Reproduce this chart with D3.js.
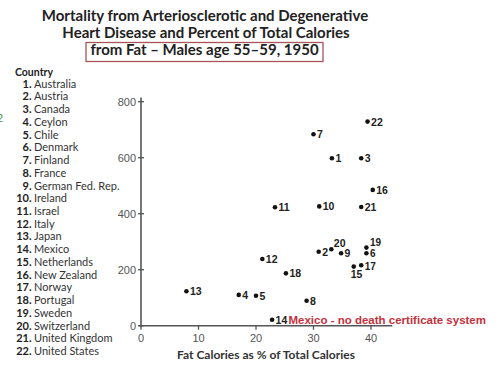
<!DOCTYPE html>
<html><head><meta charset="utf-8">
<script src="https://cdn.jsdelivr.net/npm/d3@7"></script>
<style>body{margin:0;background:#fff}svg{display:block}</style>
</head><body>
<svg id="c" width="500" height="366"></svg>
<script>
const ids = [1,2,3,4,5,6,7,8,9,10,11,12,13,14,15,16,17,18,19,20,21,22];
const countries = ["Australia","Austria","Canada","Ceylon","Chile","Denmark","Finland","France","German Fed. Rep.","Ireland","Israel","Italy","Japan","Mexico","Netherlands","New Zealand","Norway","Portugal","Sweden","Switzerland","United Kingdom","United States"];
const fatPct =    [33.2, 30.9, 38.3, 17.0, 20.0, 39.2, 30.0, 28.8, 34.8, 31.0, 23.3, 21.1, 7.9, 22.8, 37.0, 40.3, 38.3, 25.2, 39.2, 33.1, 38.3, 39.4];
const mortality = [598, 264, 598, 110, 107, 259, 684, 89, 259, 426, 423, 238, 123, 21, 211, 485, 216, 187, 279, 273, 424, 729];
const xTicks = [0,10,20,30,40];
const yTicks = [0,200,400,600,800];
const titleLines = ["Mortality from Arteriosclerotic and Degenerative","Heart Disease and Percent of Total Calories","from Fat – Males age 55–59, 1950"];
const xLabel = "Fat Calories as % of Total Calories";
const note = "Mexico - no death certificate system";

const svg = d3.select("#c");
const x = d3.scaleLinear().domain([0,40]).range([141,371]);
const y = d3.scaleLinear().domain([0,800]).range([325.7,101.7]);

// title
const tf = "Lato, 'Open Sans', sans-serif";
svg.append("text").attr("x",205).attr("y",21).attr("text-anchor","middle")
  .attr("font-family",tf).attr("font-weight","bold").attr("font-size",15).attr("fill","#222").text(titleLines[0]);
svg.append("text").attr("x",206).attr("y",37.5).attr("text-anchor","middle")
  .attr("font-family",tf).attr("font-weight","bold").attr("font-size",15).attr("fill","#222").text(titleLines[1]);
svg.append("rect").attr("x",86).attr("y",42.5).attr("width",237).attr("height",19)
  .attr("fill","none").attr("stroke","#a8555a").attr("stroke-width",1.3);
svg.append("text").attr("x",204.5).attr("y",54.5).attr("text-anchor","middle")
  .attr("font-family",tf).attr("font-weight","bold").attr("font-size",15).attr("fill","#222").text(titleLines[2]);

// legend
const lf = "Lato, 'Open Sans', sans-serif";
svg.append("text").attr("x",15).attr("y",76).attr("font-family",lf).attr("font-weight","bold")
  .attr("font-size",10.5).attr("fill","#222").text("Country");
const lg = svg.append("g");
ids.forEach((id,i)=>{
  const yy = 87.7 + i*12.73;
  lg.append("text").attr("x",31.5).attr("y",yy).attr("text-anchor","end").attr("font-family",lf)
    .attr("font-weight","bold").attr("font-size",11).attr("fill","#222").text(id+".");
  lg.append("text").attr("x",34).attr("y",yy).attr("font-family",lf)
    .attr("font-size",11).attr("fill","#333").text(countries[i]);
});
svg.append("text").attr("x",-3).attr("y",122).attr("font-family","sans-serif").attr("font-size",11)
  .attr("fill","#3b9a4a").text("2");

// axes
const af = "'Liberation Sans', Arial, sans-serif";
const axCol = "#555";
svg.append("line").attr("x1",x(0)).attr("x2",x(0)).attr("y1",y(0)+1).attr("y2",y(815))
  .attr("stroke",axCol).attr("stroke-width",1.6);
svg.append("line").attr("x1",x(-0.4)).attr("x2",x(43.7)).attr("y1",y(0)).attr("y2",y(0))
  .attr("stroke",axCol).attr("stroke-width",1.6);
yTicks.forEach(t=>{
  svg.append("line").attr("x1",x(0)-3).attr("x2",x(0)+3).attr("y1",y(t)).attr("y2",y(t))
    .attr("stroke",axCol).attr("stroke-width",1.3);
  svg.append("text").attr("x",x(0)-5).attr("y",y(t)+4).attr("text-anchor","end")
    .attr("font-family",af).attr("font-size",11).attr("fill","#555").text(t);
});
xTicks.forEach(t=>{
  svg.append("line").attr("x1",x(t)).attr("x2",x(t)).attr("y1",y(0)).attr("y2",y(0)+4)
    .attr("stroke",axCol).attr("stroke-width",1.3);
  svg.append("text").attr("x",x(t)).attr("y",342).attr("text-anchor","middle")
    .attr("font-family",af).attr("font-size",11).attr("fill","#555").text(t);
});
svg.append("text").attr("x",266).attr("y",359).attr("text-anchor","middle")
  .attr("font-family",lf).attr("font-weight","bold").attr("font-size",12).attr("fill","#333").text(xLabel);

// points
const g = svg.append("g");
ids.forEach((id,i)=>{
  const px = x(fatPct[i]), py = y(mortality[i]);
  g.append("circle").attr("cx",px).attr("cy",py).attr("r",2.3).attr("fill","#111");
  let lx = px+3.5, ly = py+4, fs = 10.5;
  if (id===20){ lx = px+2.5; ly = py-2; }
  if (id===15){ lx = px-3; ly = py+11; }
  if (id===19){ ly = py-2; fs = 10; }
  if (id===6){ ly = py+4; fs = 10; }
  if (id===17){ ly = py+5; fs = 10; }
  g.append("text").attr("x",lx).attr("y",ly)
    .attr("font-family",af).attr("font-weight","bold").attr("font-size",fs).attr("fill","#222").text(id);
});
svg.append("text").attr("x",288.5).attr("y",323.5).attr("font-family",af).attr("font-weight","bold")
  .attr("font-size",11.5).attr("fill","#c4313b").text(note);
</script>
</body></html>
